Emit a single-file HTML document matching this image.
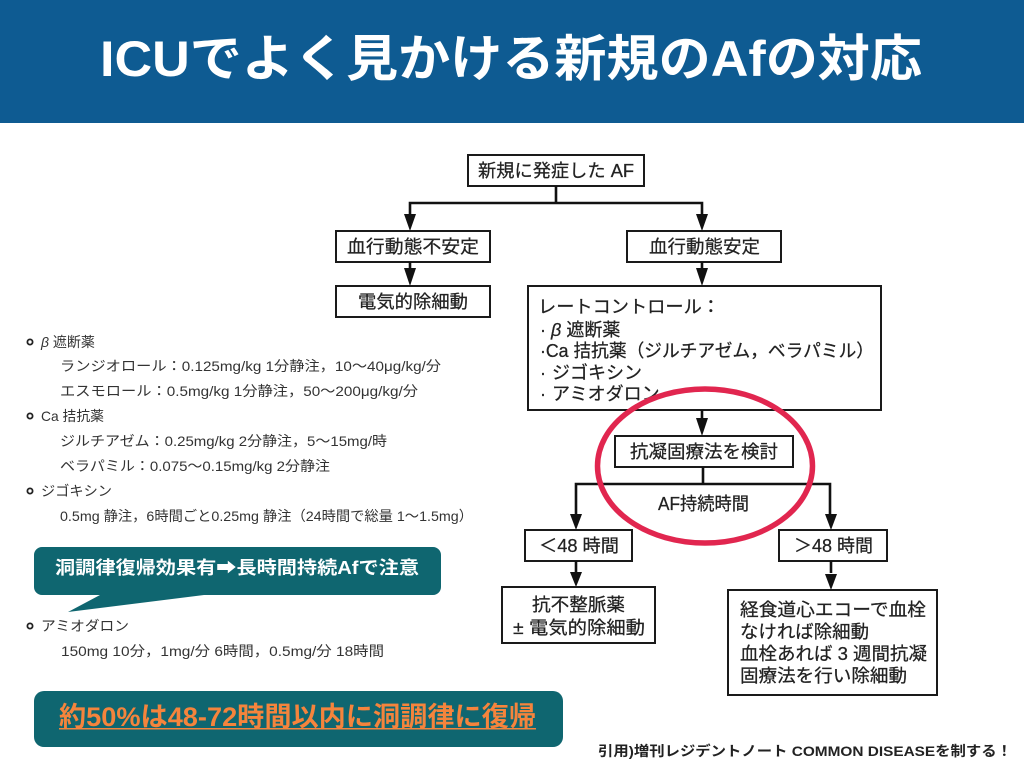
<!DOCTYPE html>
<html lang="ja"><head><meta charset="utf-8">
<style>
html,body{margin:0;padding:0;background:#fff}
svg{display:block}
text{font-family:"Liberation Sans","Noto Sans CJK JP",sans-serif}
.b{fill:none;stroke:#1a1a1a;stroke-width:2}
.l{fill:none;stroke:#111;stroke-width:2.6}
.h{fill:#111}
.f{fill:#222;font-size:18px;stroke:#222;stroke-width:.25}
.s{fill:#333;font-size:14px}
</style></head><body>
<svg width="1024" height="768" viewBox="0 0 1024 768" xmlns="http://www.w3.org/2000/svg">
<rect width="1024" height="768" fill="#fff"/>
<rect width="1024" height="123" fill="#0e5b92"/>
<text x="100" y="76" font-size="50" font-weight="700" fill="#fff" textLength="822" lengthAdjust="spacingAndGlyphs">ICUでよく見かける新規のAfの対応</text>

<g class="flow">
<rect class="b" x="468" y="155" width="176" height="31"/>
<rect class="b" x="336" y="231" width="154" height="31"/>
<rect class="b" x="627" y="231" width="154" height="31"/>
<rect class="b" x="336" y="286" width="154" height="31"/>
<rect class="b" x="528" y="286" width="353" height="124"/>
<rect class="b" x="615" y="436" width="178" height="31"/>
<rect class="b" x="525" y="530" width="107" height="31"/>
<rect class="b" x="779" y="530" width="108" height="31"/>
<rect class="b" x="502" y="587" width="153" height="56"/>
<rect class="b" x="728" y="590" width="209" height="105"/>

<path class="l" d="M556 186V203M410 222V203H702V222M702 262V272M410 262V272M702 410V420M703 467V484M576 522V484H830V522M576 561V572M831 561V573"/>
<path class="h" d="M404 214H416L410 231ZM696 214H708L702 231ZM696 268H708L702 286ZM404 268H416L410 286ZM696 418H708L702 436ZM570 514H582L576 530ZM825 514H837L831 530ZM570 572H582L576 587ZM825 574H837L831 590Z"/>

<text class="f" x="478" y="177" textLength="156" lengthAdjust="spacingAndGlyphs">新規に発症した AF</text>
<text class="f" x="347" y="253" textLength="132" lengthAdjust="spacingAndGlyphs">血行動態不安定</text>
<text class="f" x="649" y="253" textLength="111" lengthAdjust="spacingAndGlyphs">血行動態安定</text>
<text class="f" x="358" y="308" textLength="110" lengthAdjust="spacingAndGlyphs">電気的除細動</text>
<text class="f" x="538" y="313" textLength="182" lengthAdjust="spacingAndGlyphs">レートコントロール：</text>
<text class="f" x="540" y="336"><tspan>·</tspan> <tspan font-style="italic">β</tspan> 遮断薬</text>
<text class="f" x="540" y="357" textLength="334" lengthAdjust="spacingAndGlyphs">·Ca 拮抗薬（ジルチアゼム，ベラパミル）</text>
<text class="f" x="540" y="379">·</text>
<text class="f" x="552" y="379">ジゴキシン</text>
<text class="f" x="540" y="400">·</text>
<text class="f" x="552" y="400">アミオダロン</text>
<text class="f" x="630" y="458" textLength="148" lengthAdjust="spacingAndGlyphs">抗凝固療法を検討</text>
<text class="f" x="658" y="510" font-size="17" textLength="91" lengthAdjust="spacingAndGlyphs">AF持続時間</text>
<text class="f" x="539" y="552" textLength="80" lengthAdjust="spacingAndGlyphs">＜48 時間</text>
<text class="f" x="794" y="552" textLength="79" lengthAdjust="spacingAndGlyphs">＞48 時間</text>
<text class="f" x="532" y="611" textLength="93" lengthAdjust="spacingAndGlyphs">抗不整脈薬</text>
<text class="f" x="513" y="634" textLength="132" lengthAdjust="spacingAndGlyphs">± 電気的除細動</text>
<text class="f" x="740" y="616" textLength="186" lengthAdjust="spacingAndGlyphs">経食道心エコーで血栓</text>
<text class="f" x="740" y="638" textLength="129" lengthAdjust="spacingAndGlyphs">なければ除細動</text>
<text class="f" x="740" y="660" textLength="187" lengthAdjust="spacingAndGlyphs">血栓あれば 3 週間抗凝</text>
<text class="f" x="740" y="682" textLength="167" lengthAdjust="spacingAndGlyphs">固療法を行い除細動</text>
</g>

<ellipse cx="705" cy="466" rx="107.5" ry="77" fill="none" stroke="#e1264f" stroke-width="5.5"/>

<g>
<circle cx="30" cy="342" r="2.6" fill="none" stroke="#222" stroke-width="1.8"/>
<circle cx="30" cy="416" r="2.6" fill="none" stroke="#222" stroke-width="1.8"/>
<circle cx="30" cy="491" r="2.6" fill="none" stroke="#222" stroke-width="1.8"/>
<circle cx="30" cy="626" r="2.6" fill="none" stroke="#222" stroke-width="1.8"/>
<text class="s" x="41" y="347"><tspan font-style="italic">β</tspan> 遮断薬</text>
<text class="s" x="60" y="371" textLength="381" lengthAdjust="spacingAndGlyphs">ランジオロール：0.125mg/kg 1分静注，10～40μg/kg/分</text>
<text class="s" x="60" y="396" textLength="358" lengthAdjust="spacingAndGlyphs">エスモロール：0.5mg/kg 1分静注，50～200μg/kg/分</text>
<text class="s" x="41" y="421" textLength="63" lengthAdjust="spacingAndGlyphs">Ca 拮抗薬</text>
<text class="s" x="60" y="446" textLength="327" lengthAdjust="spacingAndGlyphs">ジルチアゼム：0.25mg/kg 2分静注，5～15mg/時</text>
<text class="s" x="60" y="471" textLength="270" lengthAdjust="spacingAndGlyphs">ベラパミル：0.075～0.15mg/kg 2分静注</text>
<text class="s" x="41" y="496" textLength="71" lengthAdjust="spacingAndGlyphs">ジゴキシン</text>
<text class="s" x="60" y="521" textLength="413" lengthAdjust="spacingAndGlyphs">0.5mg 静注，6時間ごと0.25mg 静注（24時間で総量 1～1.5mg）</text>
<text class="s" x="41" y="631" textLength="88" lengthAdjust="spacingAndGlyphs">アミオダロン</text>
<text class="s" x="61" y="656" textLength="323" lengthAdjust="spacingAndGlyphs">150mg 10分，1mg/分 6時間，0.5mg/分 18時間</text>
</g>

<path d="M42 547H433a8 8 0 0 1 8 8V587a8 8 0 0 1-8 8H204L68 612L100 595H42a8 8 0 0 1-8-8V555a8 8 0 0 1 8-8Z" fill="#0f6670"/>
<text x="55" y="574" font-size="18" font-weight="700" fill="#fff" textLength="364" lengthAdjust="spacingAndGlyphs">洞調律復帰効果有➡長時間持続Afで注意</text>

<rect x="34" y="691" width="529" height="56" rx="10" fill="#0f6670"/>
<text x="59" y="726" font-size="27" font-weight="700" fill="#f5843c" textLength="477" lengthAdjust="spacingAndGlyphs">約50%は48-72時間以内に洞調律に復帰</text>
<rect x="59" y="728" width="477" height="1.5" fill="#f5843c"/>

<text x="598" y="756" font-size="14" font-weight="700" fill="#222" textLength="414" lengthAdjust="spacingAndGlyphs">引用)増刊レジデントノート COMMON DISEASEを制する！</text>
</svg>
</body></html>
